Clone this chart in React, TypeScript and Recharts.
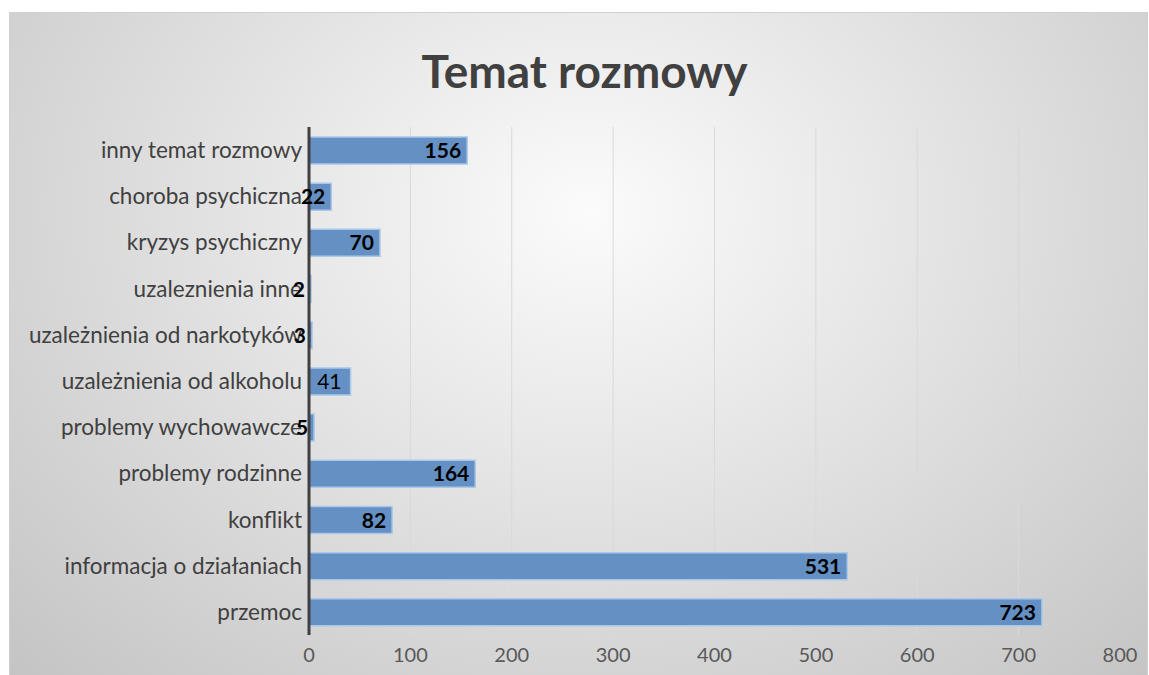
import React from "react";
import { BarChart, Bar, XAxis, YAxis, CartesianGrid, LabelList } from "recharts";

const CATEGORIES = [
  "inny temat rozmowy",
  "choroba psychiczna",
  "kryzys psychiczny",
  "uzaleznienia inne",
  "uzależnienia od narkotyków",
  "uzależnienia od alkoholu",
  "problemy wychowawcze",
  "problemy rodzinne",
  "konflikt",
  "informacja o działaniach",
  "przemoc",
];

const VALUES = [156, 22, 70, 2, 3, 41, 5, 164, 82, 531, 723];

const X_TICKS = [0, 100, 200, 300, 400, 500, 600, 700, 800];

const FONT = "Lato, 'Open Sans', sans-serif";

const data = CATEGORIES.map((name, i) => ({ name, value: VALUES[i] }));

// value labels sit inside the bar end; the "41" one is not bold in the original
const renderLabel = (props: any) => {
  const { x, y, width, height, value } = props;
  const end = x + width;
  const light = value === 41;
  return (
    <text
      x={end - (light ? 9 : 6)}
      y={y + height / 2}
      dy="0.36em"
      textAnchor="end"
      fontFamily={FONT}
      fontSize={21}
      fontWeight={light ? 400 : 700}
      fill="#000"
    >
      {value}
    </text>
  );
};

export default function App() {
  return (
    <div style={{ position: "absolute", left: 0, top: 0, width: 1149, height: 675 }}>
      <div
        style={{
          position: "absolute",
          left: 9,
          top: 12,
          width: 1139,
          height: 663,
          boxSizing: "border-box",
          border: "1px solid #d0d0d0",
          borderBottom: "none",
          background:
            "radial-gradient(ellipse farthest-corner at 51% 30%, #fbfbfb 0%, #e8e8e8 35%, #c4c4c4 100%)",
        }}
      />
      <div
        style={{
          position: "absolute",
          left: 0,
          width: 1169,
          top: 43,
          textAlign: "center",
          fontFamily: FONT,
          fontWeight: 700,
          fontSize: 46,
          color: "#404040",
          lineHeight: "56px",
        }}
      >
        Temat rozmowy
      </div>
      <div style={{ position: "absolute", left: 0, top: 0 }}>
        <BarChart
          width={1149}
          height={675}
          data={data}
          layout="vertical"
          margin={{ top: 127, right: 29, bottom: 10, left: 0 }}
          barSize={27}
        >
          <CartesianGrid
            horizontal={false}
            verticalValues={X_TICKS.slice(1, -1)}
            stroke="#d9d9d9"
            strokeWidth={1}
          />
          <XAxis
            type="number"
            domain={[0, 800]}
            ticks={X_TICKS}
            interval={0}
            axisLine={false}
            tickLine={false}
            tickSize={0}
            height={30}
            tickMargin={13}
            tick={{ fill: "#595959", fontSize: 20, fontFamily: FONT }}
          />
          <YAxis
            type="category"
            dataKey="name"
            width={309}
            interval={0}
            tickLine={false}
            tickSize={0}
            tickMargin={7}
            axisLine={{ stroke: "#404040", strokeWidth: 3 }}
            tick={{ fill: "#404040", fontSize: 22.5, fontFamily: FONT }}
          />
          <Bar
            dataKey="value"
            fill="#6590c4"
            stroke="#a9c8ea"
            strokeWidth={1.5}
            isAnimationActive={false}
          >
            <LabelList dataKey="value" content={renderLabel} />
          </Bar>
        </BarChart>
      </div>
    </div>
  );
}
